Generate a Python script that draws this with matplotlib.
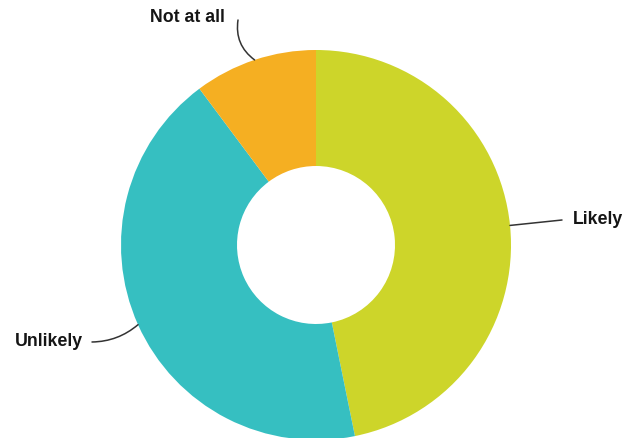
import numpy as np
import matplotlib
matplotlib.use("Agg")
import matplotlib.pyplot as plt

categories = ["Likely", "Unlikely", "Not at all"]
values = [46.8, 43.0, 10.2]
colors = ["#CDD52A", "#36BFC1", "#F5AF22"]

W, H = 628, 438
fig = plt.figure(figsize=(W / 100, H / 100), dpi=100)
ax = fig.add_axes([0, 0, 1, 1])

cx, cy, R = 316, H - 245, 195
wedges, _ = ax.pie(values, colors=colors, startangle=90, counterclock=False,
                   center=(cx, cy), radius=R, frame=True,
                   wedgeprops=dict(width=R - 79, linewidth=0))
ax.set_xlim(0, W)
ax.set_ylim(0, H)
ax.set_aspect("equal")
ax.axis("off")

label_cfg = {
    "Likely": dict(xy_text=(573, H - 220), ha="left", rad=0.0, line_end=(562, H - 220)),
    "Unlikely": dict(xy_text=(83, H - 342), ha="right", rad=0.18, line_end=(92, H - 342)),
    "Not at all": dict(xy_text=(225, H - 17), ha="right", rad=0.3, line_end=(238, H - 20)),
}

for w, name in zip(wedges, categories):
    ang = np.deg2rad((w.theta1 + w.theta2) / 2)
    px = cx + R * np.cos(ang)
    py = cy + R * np.sin(ang)
    cfg = label_cfg[name]
    ex, ey = cfg["line_end"]
    ax.annotate("", xy=(px, py), xytext=(ex, ey),
                arrowprops=dict(arrowstyle="-", color="#333333", lw=1.1,
                                connectionstyle=f"arc3,rad={cfg['rad']}",
                                shrinkA=0, shrinkB=0))
    ax.text(cfg["xy_text"][0], cfg["xy_text"][1], name, ha=cfg["ha"], va="center",
            fontsize=12.8, fontweight="bold", family="Liberation Sans", color="#151515")

fig.savefig("out.png", dpi=100)
